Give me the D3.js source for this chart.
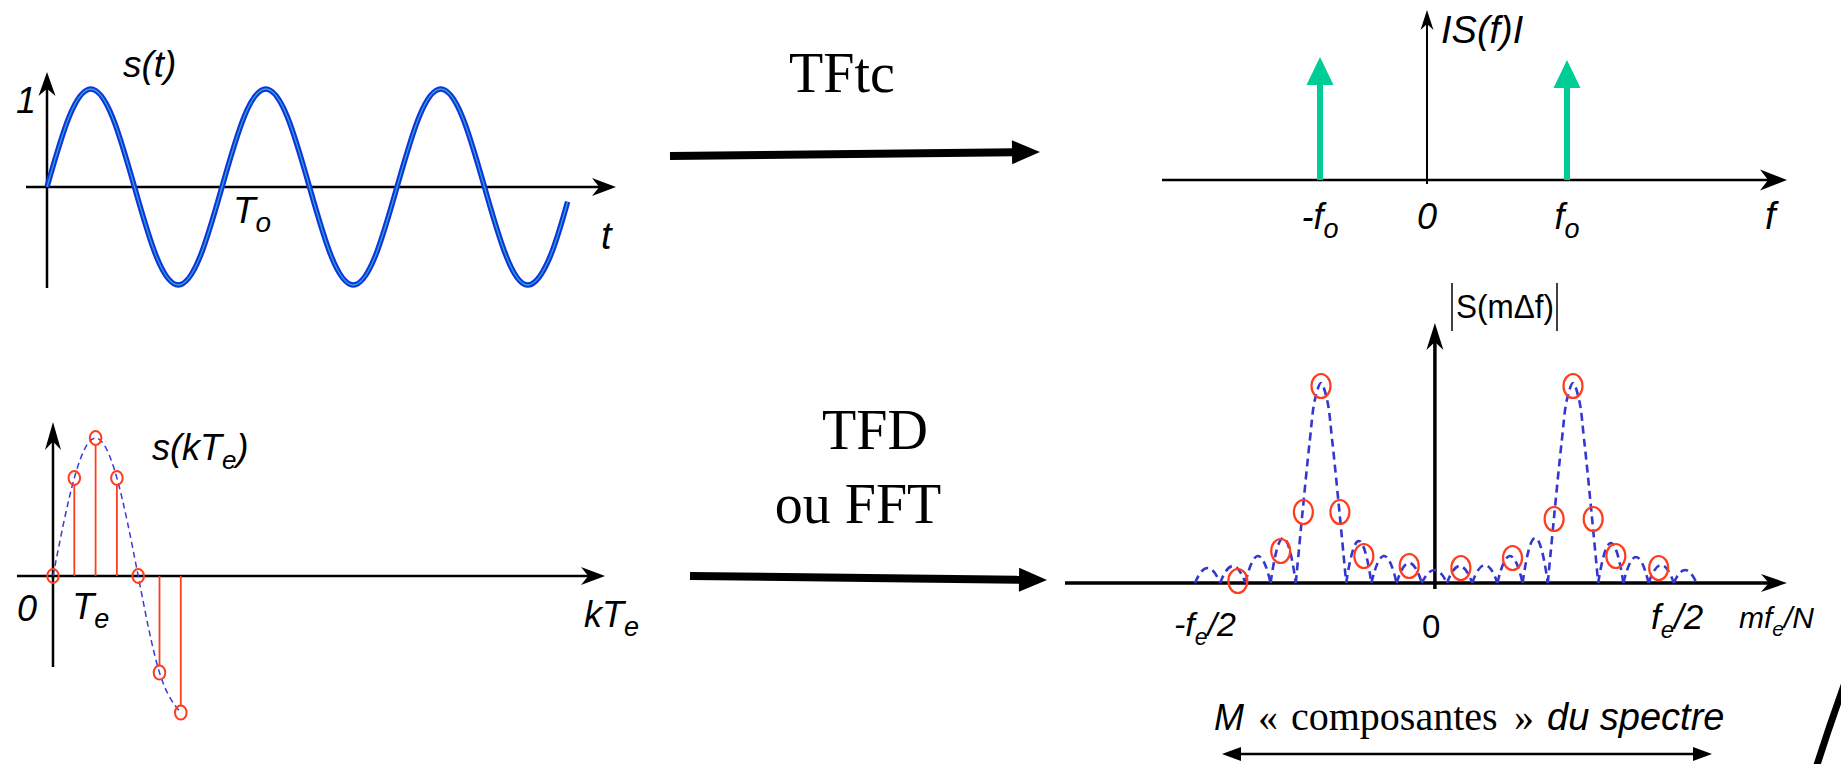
<!DOCTYPE html>
<html><head><meta charset="utf-8">
<script src="https://cdn.jsdelivr.net/npm/d3@7"></script>
<style>
html,body{margin:0;padding:0;background:#fff;}
svg{display:block;}
</style></head>
<body>
<svg id="c" width="1841" height="764"></svg>
<script>
// ================= DATA =================
// Panel A : continuous sine s(t)  (t in periods T0)
const sineT = [0, 0.125, 0.25, 0.375, 0.5, 0.625, 0.75, 0.875, 1, 1.125, 1.25, 1.375, 1.5, 1.625, 1.75, 1.875, 2, 2.125, 2.25, 2.375, 2.5, 2.625, 2.75, 2.875, 2.975];
const sineV = [0, 0.71, 1, 0.71, 0, -0.71, -1, -0.71, 0, 0.71, 1, 0.71, 0, -0.71, -1, -0.71, 0, 0.71, 1, 0.71, 0, -0.71, -1, -0.71, -0.15];
// Panel B : |S(f)| spectral lines
const diracF = [-1, 1];
const diracA = [1, 0.975];
const specTickVals = [-1, 0, 1];
const specTickLabels = ["-f_o", "0", "f_o"];
// Panel C : samples s(kTe)
const sampleK = [0, 1, 2, 3, 4, 5, 6];
const sampleV = [0, 0.71, 1, 0.71, 0, -0.70, -0.99];
// Panel D : |S(m delta f)|
const dftM = [-8.3, -6.6, -5.7, -5.0, -4.25, -3.3, -1.5, 0.55, 2.6, 4.25, 5.0, 5.8, 6.7, 8.4];
const dftA = [0.01, 0.16, 0.355, 0.985, 0.355, 0.135, 0.085, 0.075, 0.125, 0.32, 0.985, 0.32, 0.135, 0.075];
const lobeFrom = [-10, -9, -8, -7, -4, -3, -2, -1, 0, 1, 2, 3, 6, 7, 8, 9];
const lobeTo   = [-9, -8, -7, -6, -3, -2, -1, 0, 1, 2, 3, 4, 7, 8, 9, 9.9];
const lobePeak = [0.075, 0.085, 0.135, 0.225, 0.21, 0.135, 0.10, 0.065, 0.085, 0.09, 0.135, 0.225, 0.20, 0.13, 0.09, 0.065];
const mainLobeM = [[-6, -5.73, -5.44, -5.24, -5, -4.76, -4.56, -4.27, -4], [4, 4.27, 4.56, 4.76, 5, 5.24, 5.44, 5.73, 6]];
const mainLobeV = [0, 0.358, 0.717, 0.917, 1, 0.917, 0.717, 0.358, 0];
const dftAxisAt = -0.48;
const dftTickLabels = ["-f_e/2", "0", "f_e/2"];

// ================= HELPERS =================
const svg = d3.select("#c");
const SANS = "'Liberation Sans', Arial, Helvetica, sans-serif";
const SERIF = "'Liberation Serif', 'Times New Roman', serif";

function head(g, x, y, angle, len, wid, notch, color) {
  g.append("polygon")
    .attr("points", [[0,0],[-len,-wid/2],[-len*(1-notch),0],[-len,wid/2]].map(p=>p.join(",")).join(" "))
    .attr("transform", `translate(${x},${y}) rotate(${angle})`)
    .attr("fill", color);
}
function arrow(g, x1, y1, x2, y2, sw, len, wid, notch, color) {
  color = color || "#000";
  const a = Math.atan2(y2 - y1, x2 - x1);
  const back = len * (1 - notch) * 0.9;
  g.append("line").attr("x1", x1).attr("y1", y1)
    .attr("x2", x2 - Math.cos(a) * back).attr("y2", y2 - Math.sin(a) * back)
    .attr("stroke", color).attr("stroke-width", sw);
  head(g, x2, y2, a * 180 / Math.PI, len, wid, notch, color);
}
function label(g, x, y, str, size, opts) {
  opts = opts || {};
  const t = g.append("text").attr("x", x).attr("y", y)
    .attr("font-family", opts.family || SANS)
    .attr("font-style", opts.upright ? "normal" : "italic")
    .attr("font-size", size)
    .attr("text-anchor", opts.anchor || "start")
    .attr("fill", "#000");
  const parts = str.split(/(_\w)/).filter(s => s.length);
  const sub = opts.sub || Math.round(size * 0.7);
  const shift = Math.round(size * 0.25);
  let down = false;
  parts.forEach(p => {
    if (p[0] === "_") {
      t.append("tspan").attr("font-size", sub).attr("dy", down ? 0 : shift).text(p.slice(1));
      down = true;
    } else {
      t.append("tspan").attr("dy", down ? -shift : 0).text(p);
      down = false;
    }
  });
  return t;
}

// ================= PANEL A : s(t) =================
const gA = svg.append("g");
const xA = d3.scaleLinear().domain([0, 1]).range([47, 222]);
const yA = d3.scaleLinear().domain([-1, 1]).range([285, 89]);
arrow(gA, 26, yA(0), 616, yA(0), 2.5, 24, 18, 0.3);
arrow(gA, xA(0), 288, xA(0), 72, 2.5, 24, 17, 0.3);
const sinePts = sineT.map((t, i) => [t, sineV[i]]);
const sineLine = d3.line().x(d => xA(d[0])).y(d => yA(d[1])).curve(d3.curveNatural);
gA.append("path").attr("d", sineLine(sinePts)).attr("fill", "none")
  .attr("stroke", "#1530e0").attr("stroke-width", 5.5).attr("stroke-linejoin", "round");
gA.append("path").attr("d", sineLine(sinePts)).attr("fill", "none")
  .attr("stroke", "#1fb0c0").attr("stroke-width", 1.3);
label(gA, 123, 77, "s(t)", 37);
label(gA, 16, yA(1) + 24, "1", 36);
label(gA, xA(1) + 11, yA(0) + 36, "T_o", 37, {sub: 28});
label(gA, 601, 249, "t", 38);

// ================= PANEL B : |S(f)| =================
const gB = svg.append("g");
const xB = d3.scaleLinear().domain([-1, 0, 1]).range([1320, 1427, 1567]);
const yB = d3.scaleLinear().domain([0, 1]).range([180, 57]);
arrow(gB, 1162, yB(0), 1787, yB(0), 2.5, 27, 21, 0.3);
arrow(gB, xB(0), 184, xB(0), 10, 2, 20, 13, 0.3);
diracF.forEach((f, i) => {
  gB.append("line").attr("x1", xB(f)).attr("x2", xB(f))
    .attr("y1", yB(0)).attr("y2", yB(diracA[i]) + 25)
    .attr("stroke", "#00cc96").attr("stroke-width", 6);
  head(gB, xB(f), yB(diracA[i]), -90, 28, 27, 0, "#00cc96");
});
label(gB, 1441, 43, "IS(f)I", 38);
specTickVals.forEach((v, i) => label(gB, xB(v), 229, specTickLabels[i], 36, {anchor: "middle", sub: 27}));
label(gB, 1765, 229, "f", 38);

// ================= PANEL C : s(kTe) =================
const gC = svg.append("g");
const xC = d3.scaleLinear().domain([0, 1]).range([53, 74.3]);
const yC = d3.scaleLinear().domain([-1, 1]).range([714, 438]);
arrow(gC, 17, yC(0), 605, yC(0), 2.5, 24, 18, 0.3);
arrow(gC, xC(0), 667, xC(0), 422, 2.5, 28, 16, 0.3);
const sampPts = sampleK.map((k, i) => [k, sampleV[i]]);
gC.append("path")
  .attr("d", d3.line().x(d => xC(d[0])).y(d => yC(d[1])).curve(d3.curveNatural)(sampPts))
  .attr("fill", "none").attr("stroke", "#3a3ad8").attr("stroke-width", 1.5)
  .attr("stroke-dasharray", "6,4");
sampPts.forEach(d => {
  if (d[1] !== 0) {
    const s = d[1] > 0 ? 1 : -1;
    gC.append("line").attr("x1", xC(d[0])).attr("x2", xC(d[0]))
      .attr("y1", yC(0)).attr("y2", yC(d[1]) + s * 6.5)
      .attr("stroke", "#ff3c1e").attr("stroke-width", 1.8);
  }
  gC.append("ellipse").attr("cx", xC(d[0])).attr("cy", yC(d[1]))
    .attr("rx", 5.8).attr("ry", 7).attr("fill", "none")
    .attr("stroke", "#ff3c1e").attr("stroke-width", 2);
});
label(gC, 152, 460, "s(kT_e)", 36, {sub: 26});
label(gC, 17, 621, "0", 36);
label(gC, xC(1) - 2, 619, "T_e", 36, {sub: 27});
label(gC, 584, 627, "kT_e", 36, {sub: 27});

// ================= PANEL D : |S(m delta f)| =================
const gD = svg.append("g");
const xD = d3.scaleLinear().domain([-10, 10]).range([1195, 1699]);
const yD = d3.scaleLinear().domain([0, 1]).range([583, 383]);
arrow(gD, 1065, yD(0), 1787, yD(0), 3.5, 26, 18, 0.3);
arrow(gD, xD(dftAxisAt), 589, xD(dftAxisAt), 323, 3.5, 27, 17, 0.3);
const DASH = {stroke: "#3535d0", w: 2.6, dash: "8,5"};
lobeFrom.forEach((a, i) => {
  const p = d3.path();
  const y0 = yD(0), yp = yD(lobePeak[i]);
  p.moveTo(xD(a), y0);
  p.quadraticCurveTo((xD(a) + xD(lobeTo[i])) / 2, y0 - 2 * (y0 - yp), xD(lobeTo[i]), y0);
  gD.append("path").attr("d", p.toString()).attr("fill", "none")
    .attr("stroke", DASH.stroke).attr("stroke-width", DASH.w).attr("stroke-dasharray", DASH.dash);
});
mainLobeM.forEach(ms => {
  const pts = ms.map((m, i) => [m, mainLobeV[i]]);
  gD.append("path")
    .attr("d", d3.line().x(d => xD(d[0])).y(d => yD(d[1])).curve(d3.curveCatmullRom)(pts))
    .attr("fill", "none").attr("stroke", DASH.stroke).attr("stroke-width", DASH.w)
    .attr("stroke-dasharray", DASH.dash);
});
dftM.forEach((m, i) => {
  gD.append("ellipse").attr("cx", xD(m)).attr("cy", yD(dftA[i]))
    .attr("rx", 9.5).attr("ry", 12).attr("fill", "none")
    .attr("stroke", "#ff3c1e").attr("stroke-width", 2.2);
});
// |S(m delta f)| title
gD.append("line").attr("x1", 1452).attr("x2", 1452).attr("y1", 283).attr("y2", 331).attr("stroke", "#000").attr("stroke-width", 1.5);
gD.append("line").attr("x1", 1557).attr("x2", 1557).attr("y1", 283).attr("y2", 331).attr("stroke", "#000").attr("stroke-width", 1.5);
label(gD, 1456, 318, "S(mΔf)", 33, {upright: true}).attr("textLength", 98).attr("lengthAdjust", "spacingAndGlyphs");
label(gD, 1174, 636, dftTickLabels[0], 34, {sub: 23});
label(gD, 1422, 638, dftTickLabels[1], 33, {upright: true});
label(gD, 1651, 629, dftTickLabels[2], 35, {sub: 24});
label(gD, 1739, 628, "mf_e/N", 30, {sub: 21});
// bottom caption
const cap = gD.append("text").attr("y", 730).attr("fill", "#000");
cap.append("tspan").attr("x", 1214).attr("font-family", SANS).attr("font-style", "italic").attr("font-size", 36).text("M");
cap.append("tspan").attr("x", 1258).attr("font-family", SERIF).attr("font-size", 40).text("«");
cap.append("tspan").attr("x", 1291).attr("font-family", SERIF).attr("font-size", 40).text("composantes");
cap.append("tspan").attr("x", 1514).attr("font-family", SERIF).attr("font-size", 40).text("»");
cap.append("tspan").attr("x", 1547).attr("font-family", SANS).attr("font-style", "italic").attr("font-size", 38).text("du spectre");
arrow(gD, 1467, 754, 1712, 754, 2.5, 19, 14, 0);
arrow(gD, 1467, 754, 1222, 754, 2.5, 19, 14, 0);

// ================= MIDDLE TRANSFORMS =================
const gM = svg.append("g");
label(gM, 842, 92, "TFtc", 56, {upright: true, family: SERIF, anchor: "middle"});
arrow(gM, 670, 156, 1040, 152, 8, 28, 24, 0);
label(gM, 875, 449, "TFD", 56, {upright: true, family: SERIF, anchor: "middle"});
label(gM, 858, 523, "ou FFT", 56, {upright: true, family: SERIF, anchor: "middle"});
arrow(gM, 690, 576, 1047, 580, 8, 28, 24, 0);

// decorative arc in bottom-right corner
svg.append("path").attr("d", "M1846,680 Q1830,724 1816,768")
  .attr("fill", "none").attr("stroke", "#000").attr("stroke-width", 7);
</script>
</body></html>
